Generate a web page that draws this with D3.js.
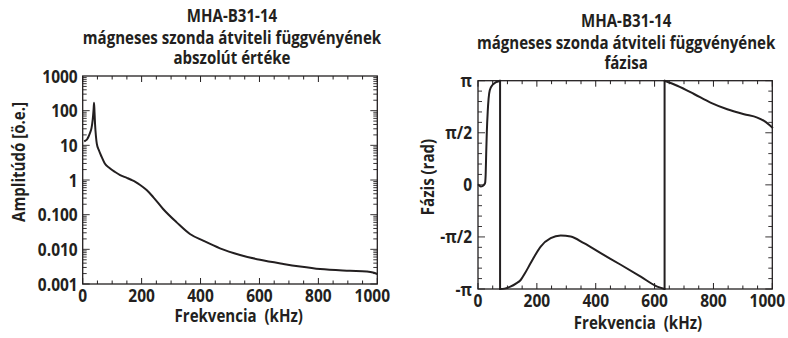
<!DOCTYPE html>
<html><head><meta charset="utf-8">
<script src="https://cdn.jsdelivr.net/npm/d3@7"></script>
<style>
body{margin:0;background:#fff;}
svg text{font-family:"Open Sans",sans-serif;font-weight:700;fill:#231f20;white-space:pre;}
</style></head>
<body><svg id="c" width="788" height="338"></svg>
<script>
// ---- data ----
const ampFreq = [5,10,15,20,25,30,34,37,38.5,40,42,45,48,55,64,75,92,110,127,150,166,180,195,217,240,273,319,364,409,466,534,602,681,738,806,907,964,985,1000];
const ampValue = [13.0,13.8,15.0,18,23,32,55,110,170,95,40,18,11,7.2,4.7,3.0,2.18,1.7,1.39,1.15,1.0,0.87,0.72,0.515,0.317,0.146,0.060,0.0277,0.0178,0.0107,0.0069,0.0050,0.0038,0.0032,0.0027,0.0024,0.00228,0.00215,0.00195];
const PI = Math.PI;
const phaseFreq = [2,5,10,15,20,24,26,28,30,33,36,40,50,60,70,75,75,90,110,130,145,160,179,213,247,281,315,360,417,485,553,609,634,634,677,734,790,847,904,949,972,1000];
const phaseValue = [0,-0.03,-0.05,-0.04,0,0.05,0.3,1.0,1.6,2.2,2.6,2.85,3.02,3.09,3.12,PI,-PI,-3.13,-3.07,-2.97,-2.87,-2.66,-2.36,-1.86,-1.61,-1.53,-1.56,-1.76,-2.06,-2.41,-2.77,-3.07,-PI,PI,2.99,2.74,2.48,2.28,2.13,2.03,1.93,1.73];
const xTicks = [0,200,400,600,800,1000];
const ampTicks = [1000,100,10,1,0.1,0.01,0.001];
const ampTickLabels = ["1000","100","10","1","0.100","0.010","0.001"];
const phaseTicks = [PI,PI/2,0,-PI/2,-PI];
const phaseTickLabels = ["π","π/2","0","-π/2","-π"];
const titleL = ["MHA-B31-14","mágneses szonda átviteli függvényének","abszolút értéke"];
const titleR = ["MHA-B31-14","mágneses szonda átviteli függvényének","fázisa"];

const ink = "#231f20";
const svg = d3.select("#c");
const K = 0.86;

function txt(g, x, y, s, size, anchor, transform){
  const t = g.append("text").attr("font-size",size).attr("text-anchor",anchor||"middle").text(s);
  if(transform) t.attr("transform",transform); else t.attr("x",x).attr("y",y);
  const w = t.node().getComputedTextLength();
  t.attr("textLength", w*K).attr("lengthAdjust","spacingAndGlyphs");
  return t;
}
function frame(g, x, y, w, h){
  g.append("rect").attr("x",x).attr("y",y).attr("width",w).attr("height",h)
   .attr("fill","none").attr("stroke",ink).attr("stroke-width",1.3);
}
function xTicksDraw(g, xs, top, bottom, lastEnd){
  d3.range(0,1001,50).forEach(v=>{
    const L = v%200===0 ? 6 : 3.5;
    const px = xs(v);
    g.append("line").attr("x1",px).attr("x2",px).attr("y1",bottom).attr("y2",bottom-L).attr("stroke",ink).attr("stroke-width",1);
    g.append("line").attr("x1",px).attr("x2",px).attr("y1",top).attr("y2",top+L).attr("stroke",ink).attr("stroke-width",1);
  });
  xTicks.forEach(v=>{
    if(v===1000 && lastEnd) txt(g, lastEnd, bottom+17.5, String(v), 18, "end");
    else txt(g, xs(v), bottom+17.5, String(v), 18, "middle");
  });
}

// ---- left chart ----
const L = {x0:82.7, x1:377.3, y0:76, y1:284};
const xL = d3.scaleLinear().domain([0,1000]).range([L.x0,L.x1]);
const yL = d3.scaleLog().domain([0.001,1000]).range([L.y1,L.y0]);
const gL = svg.append("g");
for(let e=-3;e<3;e++){
  for(let m=1;m<10;m++){
    const py = yL(m*Math.pow(10,e));
    const len = m===1 ? 7 : 4;
    gL.append("line").attr("x1",L.x0).attr("x2",L.x0+len).attr("y1",py).attr("y2",py).attr("stroke",ink).attr("stroke-width",0.9);
    gL.append("line").attr("x1",L.x1).attr("x2",L.x1-len).attr("y1",py).attr("y2",py).attr("stroke",ink).attr("stroke-width",0.9);
  }
}
ampTicks.forEach((v,i)=>{ txt(gL, L.x0-5, yL(v)+6.5, ampTickLabels[i], 18, "end"); });
xTicksDraw(gL, xL, L.y0, L.y1, 390);
frame(gL, L.x0, L.y0, L.x1-L.x0, L.y1-L.y0);
gL.append("path").datum(ampFreq.map((f,i)=>[f,ampValue[i]]))
  .attr("d", d3.line().x(d=>xL(d[0])).y(d=>yL(d[1])).curve(d3.curveMonotoneX))
  .attr("fill","none").attr("stroke",ink).attr("stroke-width",2).attr("stroke-linejoin","round");
[22,43.5,64].forEach((b,i)=>{ txt(gL, (L.x0+L.x1)/2+2, b, titleL[i], 17.5, "middle"); });
txt(gL, 238.7, 322, "Frekvencia  (kHz)", 17.5, "middle");
txt(gL, 0, 0, "Amplitúdó [ö.e.]", 17.5, "middle", "translate(25,162) rotate(-90)");

// ---- right chart ----
const R = {x0:478, x1:772.3, y0:80.7, y1:289};
const xR = d3.scaleLinear().domain([0,1000]).range([R.x0,R.x1]);
const yR = d3.scaleLinear().domain([-PI,PI]).range([R.y1,R.y0]);
const gR = svg.append("g");
d3.range(-10,11).forEach(k=>{
  const py = yR(k*PI/10);
  const len = k%5===0 ? 7 : 4;
  gR.append("line").attr("x1",R.x0).attr("x2",R.x0+len).attr("y1",py).attr("y2",py).attr("stroke",ink).attr("stroke-width",0.9);
  gR.append("line").attr("x1",R.x1).attr("x2",R.x1-len).attr("y1",py).attr("y2",py).attr("stroke",ink).attr("stroke-width",0.9);
});
phaseTicks.forEach((v,i)=>{ txt(gR, R.x0-6, yR(v)+6.5, phaseTickLabels[i], 18, "end"); });
xTicksDraw(gR, xR, R.y0, R.y1, 785);
frame(gR, R.x0, R.y0, R.x1-R.x0, R.y1-R.y0);
// split the phase series at its wrap-around jumps so each branch is smoothed on its own
const pts = phaseFreq.map((f,i)=>[f,phaseValue[i]]);
const segs = [[pts[0]]];
for(let i=1;i<pts.length;i++){
  if(pts[i][0]===pts[i-1][0]) segs.push([pts[i-1],pts[i]], [pts[i]]);
  else segs[segs.length-1].push(pts[i]);
}
const lineR = d3.line().x(d=>xR(d[0])).y(d=>yR(d[1]));
segs.forEach(s=>{
  const isJump = s.length===2 && s[0][0]===s[1][0];
  gR.append("path").datum(s)
    .attr("d", isJump ? lineR.curve(d3.curveLinear)(s) : lineR.curve(d3.curveMonotoneX)(s))
    .attr("fill","none").attr("stroke",ink).attr("stroke-width",2).attr("stroke-linejoin","round").attr("stroke-linecap","round");
});
[27,48.5,69].forEach((b,i)=>{ txt(gR, (R.x0+R.x1)/2+1, b, titleR[i], 17.5, "middle"); });
txt(gR, 638, 329, "Frekvencia  (kHz)", 17.5, "middle");
txt(gR, 0, 0, "Fázis (rad)", 17.5, "middle", "translate(434,177) rotate(-90)");
</script></body></html>
